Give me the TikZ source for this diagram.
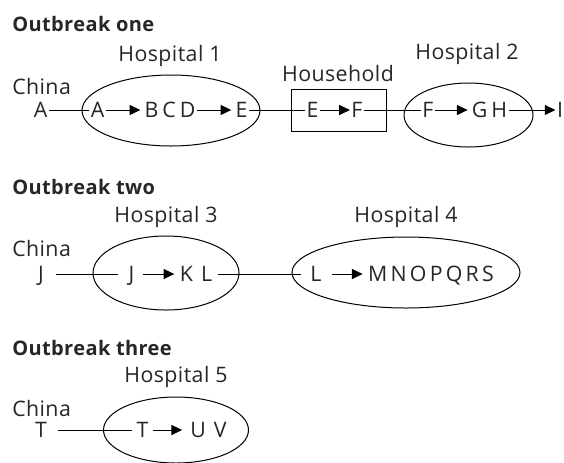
\documentclass[tikz,border=0pt]{standalone}
\usepackage{fontspec}
\setmainfont{Open Sans}[LetterSpace=2]
\usetikzlibrary{shapes.geometric,arrows.meta}
\newcommand{\ks}{\kern3pt}
\newcommand{\kw}{\kern6pt}
\begin{document}
\begin{tikzpicture}[x=0.75pt,y=-0.75pt,
  txt/.style={inner sep=0pt, font=\fontsize{16}{18}\selectfont, text=black!85},
  ltr/.style={txt, text height=11.4pt, text depth=0pt, inner sep=1pt},
  head/.style={inner sep=0pt, anchor=base west, font=\bfseries\fontsize{15}{17}\selectfont, text=black!85},
  lab/.style={txt, anchor=base},
  lableft/.style={txt, anchor=base west},
  hosp/.style={draw, ellipse, line width=0.75pt, inner sep=0pt},
  hbox/.style={draw, rectangle, line width=0.75pt, inner sep=0pt},
  conn/.style={line width=0.75pt},
  arr/.style={conn, -{Triangle[length=8pt,width=7.5pt]}},
]
\useasboundingbox (0,0) rectangle (564,462);

% ---------- Outbreak one ----------
\node[head] (o1) at (12,31) {Outbreak one};
\node[hosp, minimum width=178*0.75pt, minimum height=71*0.75pt] (h1) at (171,110.5) {};
\node[hbox, minimum width=95*0.75pt, minimum height=42*0.75pt] (hh) at (338.5,110) {};
\node[hosp, minimum width=129*0.75pt, minimum height=64*0.75pt] (h2) at (468.5,115) {};
\node[lab] (lh1) at (170,61) {Hospital 1};
\node[lab] (lhh) at (338,81) {Household};
\node[lab] (lh2) at (467,59) {Hospital 2};
\node[lableft] (c1) at (12,94) {China};

\node[ltr] (a0) at (40.5,110) {A};
\node[ltr] (a1) at (97.5,110) {A};
\node[ltr] (bcd) at (170,110) {B\ks C\ks D};
\node[ltr] (e1) at (241.5,110) {E};
\node[ltr] (e2) at (312.5,110) {E};
\node[ltr] (f2) at (357,110) {F};
\node[ltr] (f3) at (428,110) {F};
\node[ltr] (gh) at (489.5,110) {G\ks H};
\node[ltr] (i1) at (560,110) {I};

\draw[conn] (a0) -- (a1);
\draw[arr, shorten >=2pt] (a1) -- (bcd);
\draw[arr, shorten >=2pt] (bcd) -- (e1);
\draw[conn] (e1) -- (e2);
\draw[arr] (e2) -- (f2);
\draw[conn] (f2) -- (f3);
\draw[arr, shorten >=2pt] (f3) -- (gh);
\draw[arr] (gh) -- (i1);

% ---------- Outbreak two ----------
\node[head] (o2) at (12,194) {Outbreak two};
\node[hosp, minimum width=146*0.75pt, minimum height=74*0.75pt] (h3) at (166,273) {};
\node[hosp, minimum width=228*0.75pt, minimum height=71*0.75pt] (h4) at (406,272.5) {};
\node[lab] (lh3) at (166,222) {Hospital 3};
\node[lab] (lh4) at (406,222) {Hospital 4};
\node[lableft] (c2) at (12,256) {China};

\node[ltr] (j0) at (41,274) {J};
\node[ltr] (j1) at (131.5,274) {J};
\node[ltr] (kl) at (196,274) {K\kw L};
\node[ltr] (l1) at (316,274) {L};
\node[ltr] (mn) at (431,274) {\addfontfeature{LetterSpace=15}MNOPQRS};

\draw[conn, shorten <=8pt, shorten >=7pt] (j0) -- (j1);
\draw[arr, shorten <=5pt, shorten >=3pt] (j1) -- (kl);
\draw[conn, shorten <=3pt, shorten >=6pt] (kl) -- (l1);
\draw[arr, shorten <=7pt, shorten >=3pt] (l1) -- (mn);

% ---------- Outbreak three ----------
\node[head] (o3) at (12,355) {Outbreak three};
\node[hosp, minimum width=145*0.75pt, minimum height=66*0.75pt] (h5) at (176,430) {};
\node[lab] (lh5) at (176,382) {Hospital 5};
\node[lableft] (c3) at (12,416) {China};

\node[ltr] (t0) at (41,430) {T};
\node[ltr] (t1) at (142.5,430) {T};
\node[ltr] (uv) at (208.5,430) {U\kw V};

\draw[conn, shorten <=7pt, shorten >=2pt] (t0) -- (t1);
\draw[arr, shorten <=2pt, shorten >=5pt] (t1) -- (uv);
\end{tikzpicture}
\end{document}
